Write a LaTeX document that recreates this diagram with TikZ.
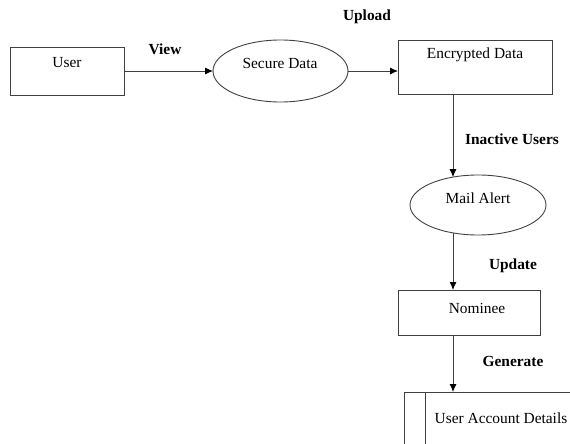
\documentclass[tikz,border=0pt]{standalone}
\usepackage{fontspec}
\setmainfont{Liberation Serif}
\usetikzlibrary{arrows.meta,shapes.geometric}
\begin{document}
\begin{tikzpicture}[x=1pt,y=-1pt,
  line/.style={draw=black!75,line width=0.9pt},
  arr/.style={line,-{Latex[length=8pt,width=7pt,black]}},
  boxshape/.style={line,rectangle,inner sep=0pt,outer sep=0pt},
  ellshape/.style={line,ellipse,inner sep=0pt,outer sep=0pt},
  txt/.style={inner sep=0pt,font=\fontsize{15.4}{18}\selectfont},
  lbl/.style={inner sep=0pt,font=\fontsize{15.4}{18}\selectfont\bfseries}]
\useasboundingbox (0,0) rectangle (570,444);
\clip (0,0) rectangle (570,444);
% shapes
\node[boxshape,minimum width=114pt,minimum height=48pt] (user) at (67,71) {};
\node[ellshape,minimum width=135pt,minimum height=62pt] (sec) at (280.5,71) {};
\node[boxshape,minimum width=154pt,minimum height=54pt] (enc) at (475,67) {};
\node[ellshape,minimum width=136pt,minimum height=60pt] (mail) at (478,205) {};
\node[boxshape,minimum width=142pt,minimum height=45pt] (nom) at (469,312.5) {};
\coordinate (uadtl) at (404,392);
\coordinate (uadtr) at (575,392);
\coordinate (uadbl) at (404,450);
\coordinate (uadil) at (425,392);
\coordinate (uadib) at (425,450);
\draw[line] (uadbl) -- (uadtl) -- (uadtr);
\draw[line] (uadil) -- (uadib);
\coordinate (c1) at (453,0);
% texts
\node[txt] (userT) at (67,63) {User};
\node[txt] (secT) at (280,63) {Secure Data};
\node[txt] (encT) at (475,55) {Encrypted Data};
\node[txt] (mailT) at (478,198) {Mail Alert};
\node[txt] (nomT) at (477,308) {Nominee};
\node[txt] (uadT) at (501,418) {User Account Details};
% labels
\node[lbl] (view) at (165,49) {View};
\node[lbl] (upload) at (367,17) {Upload};
\node[lbl] (inact) at (512,139) {Inactive Users};
\node[lbl] (upd) at (513,266) {Update};
\node[lbl] (gen) at (513,361) {Generate};
% connectors
\draw[arr] (user.east) -- (sec.west);
\draw[arr] (sec.east) -- (enc.west |- sec.east);
\draw[arr] (enc.south -| c1) -- (c1 |- mail.132);
\draw[arr] (c1 |- mail.228) -- (nom.north -| c1);
\draw[arr] (nom.south -| c1) -- (c1 |- uadtl);
\end{tikzpicture}
\end{document}
